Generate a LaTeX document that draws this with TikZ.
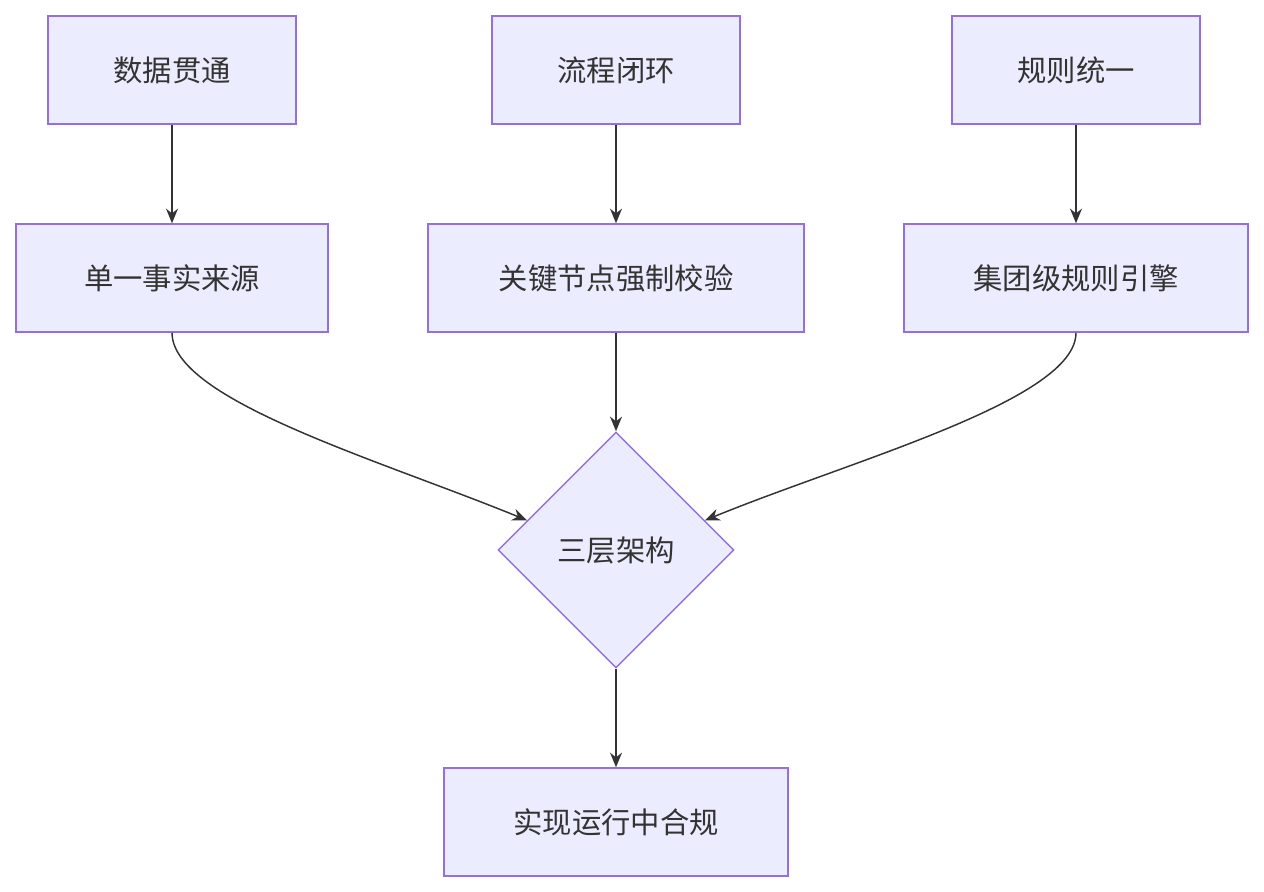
\documentclass[tikz,border=0pt]{standalone}
\usepackage{fontspec}
\setmainfont{Noto Sans CJK SC}
\usetikzlibrary{shapes.geometric,arrows.meta,calc}
\definecolor{boxfill}{HTML}{ECECFF}
\definecolor{boxline}{HTML}{9370DB}
\definecolor{ink}{HTML}{333333}
\begin{document}
\begin{tikzpicture}[x=0.75pt,y=-0.75pt,
  box/.style={draw=boxline,fill=boxfill,line width=1.1pt,minimum height=81pt,inner sep=0pt,text=ink,font=\fontsize{22}{26}\selectfont},
  dia/.style={diamond,draw=boxline,fill=boxfill,line width=1.1pt,minimum width=177pt,minimum height=177pt,inner sep=0pt,aspect=1,text=ink,font=\fontsize{22}{26}\selectfont},
  arr/.style={draw=ink,line width=1.1pt,-{Stealth[length=11pt,width=9pt]}}]
\useasboundingbox (0,0) rectangle (1264,892);
\node[box,minimum width=186pt] (a) at (172,70) {数据贯通};
\node[box,minimum width=186pt] (b) at (616,70) {流程闭环};
\node[box,minimum width=186pt] (c) at (1076,70) {规则统一};
\node[box,minimum width=234pt] (d) at (172,278) {单一事实来源};
\node[box,minimum width=282pt] (e) at (616,278) {关键节点强制校验};
\node[box,minimum width=258pt] (f) at (1076,278) {集团级规则引擎};
\node[dia] (g) at (616,550) {三层架构};
\node[box,minimum width=258pt] (h) at (616,822) {实现运行中合规};
\coordinate (gl) at ($(g.west)!0.25!(g.north)$);
\coordinate (gr) at ($(g.east)!0.25!(g.north)$);
\draw[arr] (a) -- (d);
\draw[arr] (b) -- (e);
\draw[arr] (c) -- (f);
\draw[arr] (e) -- (g);
\draw[arr] (d.south) .. controls (172,400) and (380,460) .. (gl);
\draw[arr] (f.south) .. controls (1076,400) and (852,460) .. (gr);
\draw[arr] (g) -- (h);
\end{tikzpicture}
\end{document}
